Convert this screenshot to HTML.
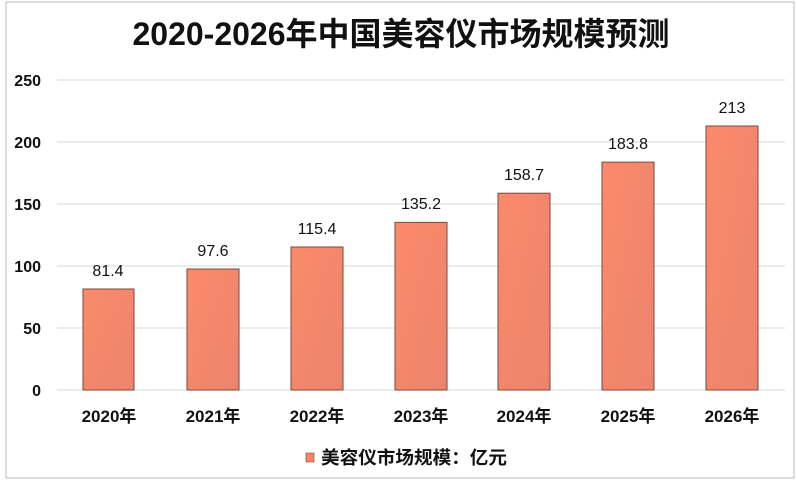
<!DOCTYPE html>
<html><head><meta charset="utf-8"><style>
html,body{margin:0;padding:0;background:#fff;width:797px;height:485px;overflow:hidden}
text{font-family:"Liberation Sans","Noto Sans CJK SC",sans-serif;fill:#111}
</style></head><body>
<svg width="797" height="485" viewBox="0 0 797 485" xmlns="http://www.w3.org/2000/svg">
<defs><linearGradient id="g" x1="0" y1="0" x2="1" y2="1"><stop offset="0" stop-color="#fb8a6a"/><stop offset="1" stop-color="#ec846c"/></linearGradient></defs>
<rect x="6" y="2" width="788" height="476" fill="#fff" stroke="#bbb" stroke-width="1"/>
<text x="401" y="45" text-anchor="middle" font-size="32" font-weight="bold" textLength="537" lengthAdjust="spacingAndGlyphs">2020-2026年中国美容仪市场规模预测</text>
<g stroke="#d9d9d9" stroke-width="1">
<line x1="57" y1="80" x2="785" y2="80"/><line x1="57" y1="142" x2="785" y2="142"/><line x1="57" y1="204" x2="785" y2="204"/><line x1="57" y1="266" x2="785" y2="266"/><line x1="57" y1="328" x2="785" y2="328"/><line x1="57" y1="390" x2="785" y2="390"/>
</g>
<g font-size="16" font-weight="bold" text-anchor="end">
<text x="41" y="86">250</text><text x="41" y="148">200</text><text x="41" y="210">150</text><text x="41" y="272">100</text><text x="41" y="334">50</text><text x="41" y="396">0</text>
</g>
<g fill="url(#g)" stroke="#7a4a3e" stroke-width="1">
<rect x="83" y="289" width="51" height="101"/>
<rect x="187" y="269" width="52" height="121"/>
<rect x="291" y="247" width="52" height="143"/>
<rect x="395" y="222.4" width="52" height="167.6"/>
<rect x="498" y="193.2" width="52" height="196.8"/>
<rect x="602" y="162.1" width="52" height="227.9"/>
<rect x="706" y="126" width="52" height="264"/>
</g>
<g font-size="16" text-anchor="middle">
<text x="108" y="276">81.4</text><text x="213" y="256">97.6</text><text x="317" y="234">115.4</text><text x="421" y="209">135.2</text><text x="524" y="180">158.7</text><text x="628" y="149">183.8</text><text x="732" y="113">213</text>
</g>
<g font-size="17" font-weight="bold" text-anchor="middle">
<text x="109" y="422">2020年</text><text x="213" y="422">2021年</text><text x="317" y="422">2022年</text><text x="421" y="422">2023年</text><text x="524" y="422">2024年</text><text x="628" y="422">2025年</text><text x="732" y="422">2026年</text>
</g>
<rect x="306" y="453" width="8" height="9" fill="#f4876a" stroke="#7a4a3e" stroke-width="0.6"/>
<text x="321" y="464" font-size="18" font-weight="bold" textLength="186" lengthAdjust="spacingAndGlyphs">美容仪市场规模：亿元</text>
</svg>
</body></html>
